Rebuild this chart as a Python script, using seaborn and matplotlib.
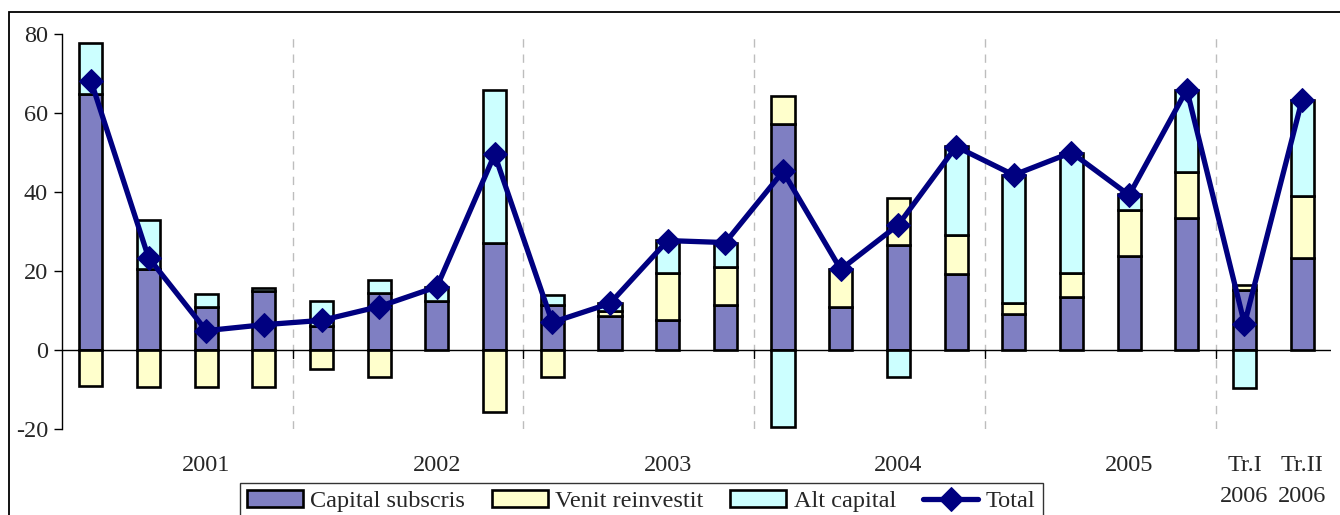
import numpy as np
import pandas as pd
import matplotlib
matplotlib.use("Agg")
import matplotlib.pyplot as plt
from matplotlib.patches import Rectangle
import seaborn as sns

# ---- data ----
quarters = ["2001 T1", "2001 T2", "2001 T3", "2001 T4",
            "2002 T1", "2002 T2", "2002 T3", "2002 T4",
            "2003 T1", "2003 T2", "2003 T3", "2003 T4",
            "2004 T1", "2004 T2", "2004 T3", "2004 T4",
            "2005 T1", "2005 T2", "2005 T3", "2005 T4",
            "2006 T1", "2006 T2"]
tick_labels = ["", "", "2001", "", "", "", "2002", "", "", "", "2003", "",
               "", "", "2004", "", "", "", "2005", "", "Tr.I\n2006", "Tr.II\n2006"]
capital_subscris = [64.7, 20.4, 11.0, 15.0, 6.2, 14.5, 12.3, 27.2, 11.5, 8.5, 7.7, 11.5,
                    57.3, 11.0, 26.7, 19.3, 9.0, 13.3, 23.7, 33.3, 15.3, 23.4]
venit_reinvestit = [-9.2, -9.3, -9.3, -9.3, -4.9, -6.8, 0.0, -15.8, -6.8, 1.3, 11.7, 9.6,
                    7.1, 9.4, 11.9, 9.7, 3.0, 6.3, 11.7, 11.8, 1.2, 15.7]
alt_capital = [13.0, 12.4, 3.3, 0.7, 6.2, 3.3, 3.7, 38.5, 2.5, 2.0, 8.4, 6.1,
               -19.4, 0.0, -6.8, 22.6, 32.4, 30.4, 4.0, 20.8, -9.7, 24.3]
total = [68.2, 23.4, 4.9, 6.4, 7.5, 11.0, 16.0, 49.5, 7.0, 11.8, 27.7, 27.2,
         45.2, 20.4, 31.7, 51.5, 44.3, 50.0, 39.2, 65.9, 6.6, 63.4]
series_names = ["Capital subscris", "Venit reinvestit", "Alt capital"]
series_colors = ["#7F7FC2", "#FFFFCC", "#CCFFFF"]
year_bounds = [3.5, 7.5, 11.5, 15.5, 19.5]

# ---- style ----
sns.set_style("white")
plt.rcParams["font.family"] = ["Liberation Serif", "DejaVu Serif"]
FS = 17.5

fig = plt.figure(figsize=(13.4, 5.15), dpi=100)
ax = fig.add_axes([62 / 1340, 1 - 429 / 515, 1269 / 1340, 395 / 515])

x = np.arange(len(quarters))
df = pd.DataFrame({"q": quarters, "x": x, "total": total})

pos_bottom = np.zeros(len(x))
neg_bottom = np.zeros(len(x))
handles = []
for name, vals, col in zip(series_names,
                           [capital_subscris, venit_reinvestit, alt_capital],
                           series_colors):
    v = np.array(vals, dtype=float)
    bottom = np.where(v >= 0, pos_bottom, neg_bottom)
    bars = ax.bar(x, v, bottom=bottom, width=0.40, color=col,
                  edgecolor="black", linewidth=1.9, label=name, zorder=3)
    handles.append(bars)
    pos_bottom = pos_bottom + np.where(v > 0, v, 0)
    neg_bottom = neg_bottom + np.where(v < 0, v, 0)

sns.lineplot(data=df, x="x", y="total", ax=ax, color="#000080", linewidth=3.8,
             marker="D", markersize=12, markeredgecolor="#000080",
             label="Total", zorder=5, legend=False)
line_handle = ax.get_lines()[-1]

# year separators
for b in year_bounds:
    ax.axvline(b, color="#BDBDBD", linestyle=(0, (6, 5)), linewidth=1.0, zorder=1)
    ax.plot([b, b], [0, -2.0], color="black", linewidth=1.0, zorder=4)
ax.axhline(0, color="black", linewidth=1.0, zorder=4)

ax.set_xlim(-0.5, 21.5)
ax.set_ylim(-20, 80)
ax.set_yticks([-20, 0, 20, 40, 60, 80])
ax.set_yticklabels(["-20", "0", "20", "40", "60", "80"], fontsize=FS)
ax.tick_params(axis="y", direction="out", length=6, width=1, color="black", pad=4, left=True)
ax.set_xticks([])
ax.set_xlabel("")
ax.set_ylabel("")
for s in ["top", "right", "bottom"]:
    ax.spines[s].set_visible(False)
ax.spines["left"].set_color("black")
ax.spines["left"].set_linewidth(1.0)

for xi, lab in zip(x, tick_labels):
    if lab:
        ax.text(xi, -26.6, lab, ha="center", va="top", fontsize=FS,
                linespacing=1.6, clip_on=False)

# outer frame (partially visible)
fig.patches.append(Rectangle((9 / 1340, -0.2), 1.2, 1.2 - 12 / 515,
                             transform=fig.transFigure, fill=False,
                             edgecolor="black", linewidth=1.3, zorder=0))

leg = fig.legend(handles + [line_handle], series_names + ["Total"],
                 loc="upper left", bbox_to_anchor=(240 / 1340, 1 - 483 / 515),
                 ncol=4, fontsize=FS, frameon=True, fancybox=False,
                 edgecolor="black", borderaxespad=0, handlelength=2.3,
                 handleheight=0.7, handletextpad=0.3, columnspacing=1.1,
                 borderpad=0.3)
leg.get_frame().set_linewidth(1.0)

fig.savefig("out.png", dpi=100)
